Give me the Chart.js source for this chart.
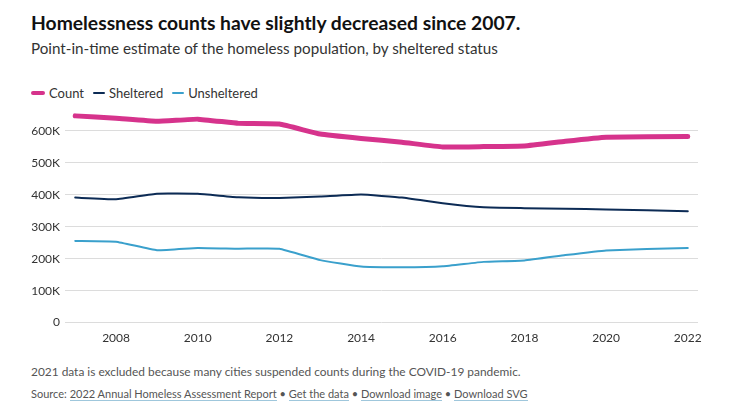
<!DOCTYPE html>
<html><head><meta charset="utf-8">
<script src="https://cdn.jsdelivr.net/npm/chart.js@4.4.1/dist/chart.umd.min.js"></script>
<style>
html,body{margin:0;padding:0;background:#fff;}
body{width:729px;height:417px;position:relative;overflow:hidden;font-family:Lato,"Open Sans",sans-serif;color:#222;}
#title{position:absolute;left:31px;top:11px;font-size:19.3px;font-weight:700;color:#111;white-space:nowrap;}
#sub{position:absolute;left:31px;top:39px;font-size:15.2px;color:#333;white-space:nowrap;}
#legend{position:absolute;left:31px;top:85px;font-size:13px;color:#333;display:flex;align-items:center;white-space:nowrap;}
#legend span.item{display:flex;align-items:center;margin-right:9px;}
#legend span.sw{display:inline-block;width:12px;border-radius:2px;margin-right:4px;}
#wrap{position:absolute;left:0;top:100px;width:729px;height:245px;}
#foot1{position:absolute;left:31px;top:364px;font-size:11.9px;color:#555;white-space:nowrap;}
#foot2{position:absolute;left:31px;top:387px;font-size:11px;color:#555;white-space:nowrap;}
#foot2 a{color:#555;text-decoration:none;border-bottom:1px solid #9fc7dc;}
</style></head>
<body>
<div id="title">Homelessness counts have slightly decreased since 2007.</div>
<div id="sub">Point-in-time estimate of the homeless population, by sheltered status</div>
<div id="legend"></div>
<div id="wrap"><canvas id="c"></canvas></div>
<div id="foot1">2021 data is excluded because many cities suspended counts during the COVID-19 pandemic.</div>
<div id="foot2">Source: <a>2022 Annual Homeless Assessment Report</a> • <a>Get the data</a> • <a>Download image</a> • <a>Download SVG</a></div>
<script>
const years = [2007,2008,2009,2010,2011,2012,2013,2014,2015,2016,2017,2018,2019,2020,2022];
const countVals = [647258,639784,630227,637077,623788,621553,590364,576450,564708,549928,550996,552830,567715,580466,582462];
const shelteredVals = [391401,386361,403543,403142,392316,390155,394698,401051,391440,373571,360867,358363,356422,354386,348630];
const unshelteredVals = [255857,253423,226684,233935,231472,231398,195666,175399,173268,176357,190129,194467,211293,226080,233832];
const seriesNames = ["Count","Sheltered","Unsheltered"];
const seriesColors = ["#d6338c","#0c2b55","#3aa0cc"];
const seriesWidths = [5,2,2];
const xTicks = [2008,2010,2012,2014,2016,2018,2020,2022];
const yTicks = [0,100000,200000,300000,400000,500000,600000];

const lg = document.getElementById('legend');
seriesNames.forEach((n,i)=>{
  const it=document.createElement('span');it.className='item';
  const sw=document.createElement('span');sw.className='sw';
  sw.style.background=seriesColors[i];sw.style.height=(i===0?4:2)+'px';
  if(i===0) sw.style.width='14px';
  it.appendChild(sw);it.appendChild(document.createTextNode(n));lg.appendChild(it);
});

const allVals=[countVals,shelteredVals,unshelteredVals];
const datasets = seriesNames.map((n,i)=>({
  label:n,
  data: years.map((y,j)=>({x:y,y:allVals[i][j]})),
  borderColor:seriesColors[i],
  backgroundColor:seriesColors[i],
  borderWidth:seriesWidths[i],
  pointRadius:0,
  tension:0.1,
  borderCapStyle:'round',
  borderJoinStyle:'round',
  clip:false
}));

new Chart(document.getElementById('c'),{
  type:'line',
  data:{datasets},
  options:{
    responsive:true,maintainAspectRatio:false,animation:false,
    layout:{padding:{top:15,right:31,bottom:0,left:0}},
    plugins:{legend:{display:false},tooltip:{enabled:false}},
    scales:{
      x:{type:'linear',min:2006.75,max:2022.25,
        afterBuildTicks:s=>{s.ticks=xTicks.map(v=>({value:v}));},
        grid:{display:false},border:{display:false},
        ticks:{color:'#333',font:{family:'Lato',size:12},padding:0,maxRotation:0,autoSkip:false,callback:v=>String(v)}},
      y:{min:0,max:650000,
        afterBuildTicks:s=>{s.ticks=yTicks.map(v=>({value:v}));},
        afterFit:s=>{s.width=65;},
        grid:{color:'#dcdcdc',drawTicks:false,lineWidth:1},border:{display:false},
        ticks:{color:'#333',font:{family:'Lato',size:12},padding:5,callback:v=>v===0?'0':(v/1000)+'K'}}
    }
  }
});
</script>
</body></html>
